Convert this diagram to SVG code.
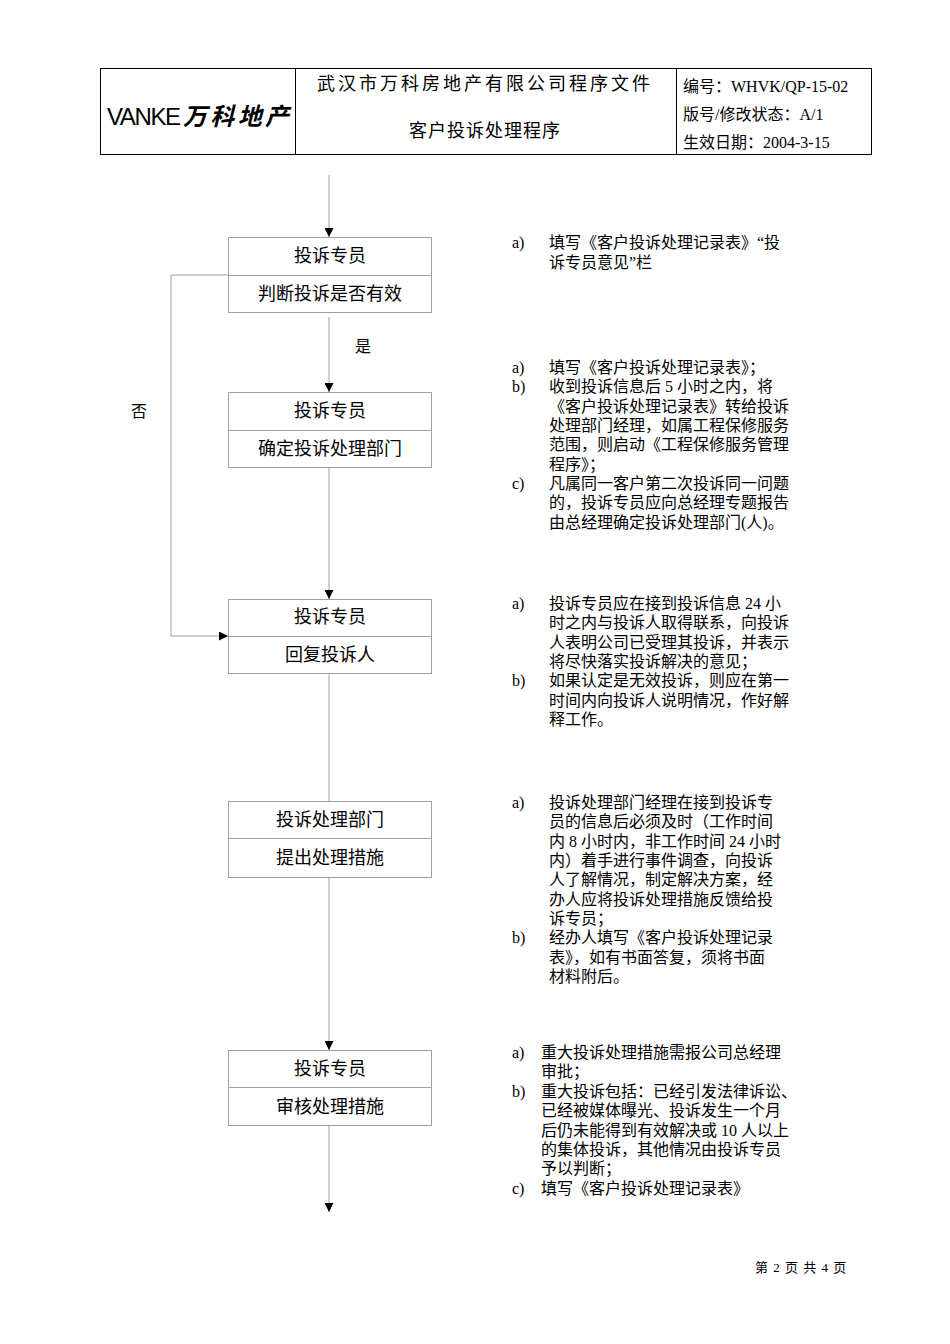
<svg xmlns="http://www.w3.org/2000/svg" width="950" height="1344" viewBox="0 0 950 1344">
<style>
.t{font-family:"Liberation Serif","Noto Sans CJK SC",serif;font-size:16px;fill:#000}
.h{font-family:"Liberation Serif","Noto Sans CJK SC",serif;font-size:18px;fill:#000}
.b{fill:#fff;stroke:#a0a0a0;stroke-width:1}
.l{stroke:#a0a0a0;stroke-width:1;fill:none}
.c{font-family:"Liberation Serif","Noto Sans CJK SC",serif;font-size:18px;fill:#000;text-anchor:middle}
</style>
<defs><marker id="a" viewBox="0 0 10 10" refX="10" refY="5" markerWidth="9" markerHeight="9" markerUnits="userSpaceOnUse" orient="auto"><path d="M0,0L10,5L0,10z" fill="#000"/></marker></defs>
<rect width="950" height="1344" fill="#fff"/>
<g id="header">
<rect x="100.5" y="68.5" width="771" height="86" fill="none" stroke="#000"/>
<line x1="295.5" y1="68" x2="295.5" y2="155" stroke="#000"/>
<line x1="676.5" y1="68" x2="676.5" y2="155" stroke="#000"/>
<text x="107" y="125" font-family="Liberation Sans,sans-serif" font-size="24" fill="#000" textLength="74">VANKE</text>
<text x="183" y="125" font-family="Noto Sans CJK SC,sans-serif" font-size="24" font-weight="bold" font-style="italic" fill="#000" textLength="106">万科地产</text>
<text x="485" y="90" class="h" text-anchor="middle" font-size="19" letter-spacing="3">武汉市万科房地产有限公司程序文件</text>
<text x="485" y="137" class="h" text-anchor="middle" font-size="19" letter-spacing="1">客户投诉处理程序</text>
<text x="683" y="92" class="t">编号：WHVK/QP-15-02</text>
<text x="683" y="120" class="t">版号/修改状态：A/1</text>
<text x="683" y="148" class="t">生效日期：2004-3-15</text>
</g>
<g id="connectors">
<line class="l" x1="329" y1="175" x2="329" y2="237" marker-end="url(#a)"/>
<line class="l" x1="329" y1="317" x2="329" y2="392" marker-end="url(#a)"/>
<line class="l" x1="329" y1="467" x2="329" y2="599" marker-end="url(#a)"/>
<line class="l" x1="329" y1="673" x2="329" y2="801"/>
<line class="l" x1="329" y1="877" x2="329" y2="1050" marker-end="url(#a)"/>
<line class="l" x1="329" y1="1125" x2="329" y2="1212" marker-end="url(#a)"/>
<polyline class="l" points="228,275 171,275 171,636 228,636" marker-end="url(#a)"/>
<text x="355" y="352" class="t">是</text>
<text x="131" y="417" class="t">否</text>
</g>
<g id="n1"><rect class="b" x="228.5" y="237.5" width="203" height="75"/><line class="l" x1="228" y1="275.5" x2="431" y2="275.5"/><text class="c" x="330" y="262">投诉专员</text><text class="c" x="330" y="300">判断投诉是否有效</text></g>
<g id="n2"><rect class="b" x="228.5" y="392.5" width="203" height="75"/><line class="l" x1="228" y1="430.5" x2="431" y2="430.5"/><text class="c" x="330" y="417">投诉专员</text><text class="c" x="330" y="455">确定投诉处理部门</text></g>
<g id="n3"><rect class="b" x="228.5" y="599.5" width="203" height="74"/><line class="l" x1="228" y1="636.5" x2="431" y2="636.5"/><text class="c" x="330" y="623">投诉专员</text><text class="c" x="330" y="661">回复投诉人</text></g>
<g id="n4"><rect class="b" x="228.5" y="801.5" width="203" height="76"/><line class="l" x1="228" y1="838.5" x2="431" y2="838.5"/><text class="c" x="330" y="826">投诉处理部门</text><text class="c" x="330" y="864">提出处理措施</text></g>
<g id="n5"><rect class="b" x="228.5" y="1050.5" width="203" height="75"/><line class="l" x1="228" y1="1087.5" x2="431" y2="1087.5"/><text class="c" x="330" y="1075">投诉专员</text><text class="c" x="330" y="1113">审核处理措施</text></g>
<g id="notes" class="t">
<text x="512" y="248">a)</text><text x="549" y="248">填写《客户投诉处理记录表》“投</text><text x="549" y="268">诉专员意见”栏</text>
<text x="512" y="373">a)</text><text x="549" y="373">填写《客户投诉处理记录表》；</text>
<text x="512" y="392">b)</text><text x="549" y="392">收到投诉信息后 5 小时之内，将</text>
<text x="549" y="412">《客户投诉处理记录表》转给投诉</text>
<text x="549" y="431">处理部门经理，如属工程保修服务</text>
<text x="549" y="450">范围，则启动《工程保修服务管理</text>
<text x="549" y="470">程序》；</text>
<text x="512" y="489">c)</text><text x="549" y="489">凡属同一客户第二次投诉同一问题</text>
<text x="549" y="508">的，投诉专员应向总经理专题报告</text>
<text x="549" y="528">由总经理确定投诉处理部门(人)。</text>
<text x="512" y="609">a)</text><text x="549" y="609">投诉专员应在接到投诉信息 24 小</text>
<text x="549" y="628">时之内与投诉人取得联系，向投诉</text>
<text x="549" y="648">人表明公司已受理其投诉，并表示</text>
<text x="549" y="667">将尽快落实投诉解决的意见；</text>
<text x="512" y="686">b)</text><text x="549" y="686">如果认定是无效投诉，则应在第一</text>
<text x="549" y="706">时间内向投诉人说明情况，作好解</text>
<text x="549" y="725">释工作。</text>
<text x="512" y="808">a)</text><text x="549" y="808">投诉处理部门经理在接到投诉专</text>
<text x="549" y="827">员的信息后必须及时（工作时间</text>
<text x="549" y="847">内 8 小时内，非工作时间 24 小时</text>
<text x="549" y="866">内）着手进行事件调查，向投诉</text>
<text x="549" y="885">人了解情况，制定解决方案，经</text>
<text x="549" y="905">办人应将投诉处理措施反馈给投</text>
<text x="549" y="924">诉专员；</text>
<text x="512" y="943">b)</text><text x="549" y="943">经办人填写《客户投诉处理记录</text>
<text x="549" y="963">表》，如有书面答复，须将书面</text>
<text x="549" y="982">材料附后。</text>
<text x="512" y="1058">a)</text><text x="541" y="1058">重大投诉处理措施需报公司总经理</text>
<text x="541" y="1077">审批；</text>
<text x="512" y="1097">b)</text><text x="541" y="1097">重大投诉包括：已经引发法律诉讼、</text>
<text x="541" y="1116">已经被媒体曝光、投诉发生一个月</text>
<text x="541" y="1136">后仍未能得到有效解决或 10 人以上</text>
<text x="541" y="1155">的集体投诉，其他情况由投诉专员</text>
<text x="541" y="1174">予以判断；</text>
<text x="512" y="1194">c)</text><text x="541" y="1194">填写《客户投诉处理记录表》</text>
</g>
<text x="755" y="1272" font-family="Liberation Serif,Noto Sans CJK SC,serif" font-size="13" letter-spacing="1">第 2 页 共 4 页</text>
</svg>
